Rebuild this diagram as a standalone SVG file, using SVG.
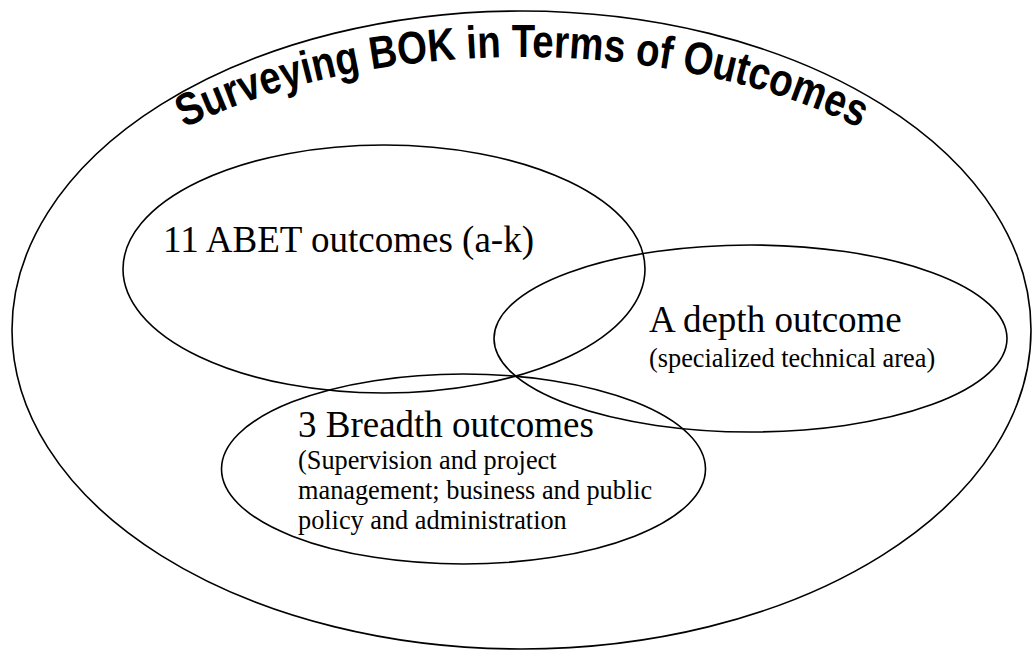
<svg xmlns="http://www.w3.org/2000/svg" width="1032" height="650" viewBox="0 0 1032 650">
  <style>
    .ell { fill: none; stroke: #000; stroke-width: 1.6; }
    .big { font-family: "Liberation Serif", "Times New Roman", serif; font-size: 37px; fill: #000; }
    .small { font-family: "Liberation Serif", "Times New Roman", serif; font-size: 26.3px; fill: #000; }
    .title { font-family: "Liberation Sans", Arial, sans-serif; font-weight: bold; font-size: 46px; fill: #000; }
  </style>
  <defs>
    <path id="titleArc" d="M 21,330 A 501 273 0 0 1 1023,330"/>
  </defs>
  <rect width="1032" height="650" fill="#fff"/>

  <g id="outer">
    <ellipse class="ell" cx="521.5" cy="330" rx="509.5" ry="319"/>
    <text class="title" text-anchor="middle"><textPath href="#titleArc" startOffset="50%" textLength="695" lengthAdjust="spacingAndGlyphs">Surveying BOK in Terms of Outcomes</textPath></text>
  </g>

  <g id="abet">
    <ellipse class="ell" cx="384" cy="269" rx="261" ry="124"/>
    <text class="big" x="163" y="252">11 ABET outcomes (a-k)</text>
  </g>

  <g id="depth">
    <ellipse class="ell" cx="750.5" cy="338.5" rx="256.5" ry="93.5"/>
    <text class="big" x="649" y="332">A depth outcome</text>
    <text class="small" x="649" y="367">(specialized technical area)</text>
  </g>

  <g id="breadth">
    <ellipse class="ell" cx="463.5" cy="469" rx="242" ry="95"/>
    <text class="big" x="298" y="437">3 Breadth outcomes</text>
    <text class="small" x="298" y="469">(Supervision and project</text>
    <text class="small" x="298" y="499">management; business and public</text>
    <text class="small" x="298" y="529">policy and administration</text>
  </g>
</svg>
